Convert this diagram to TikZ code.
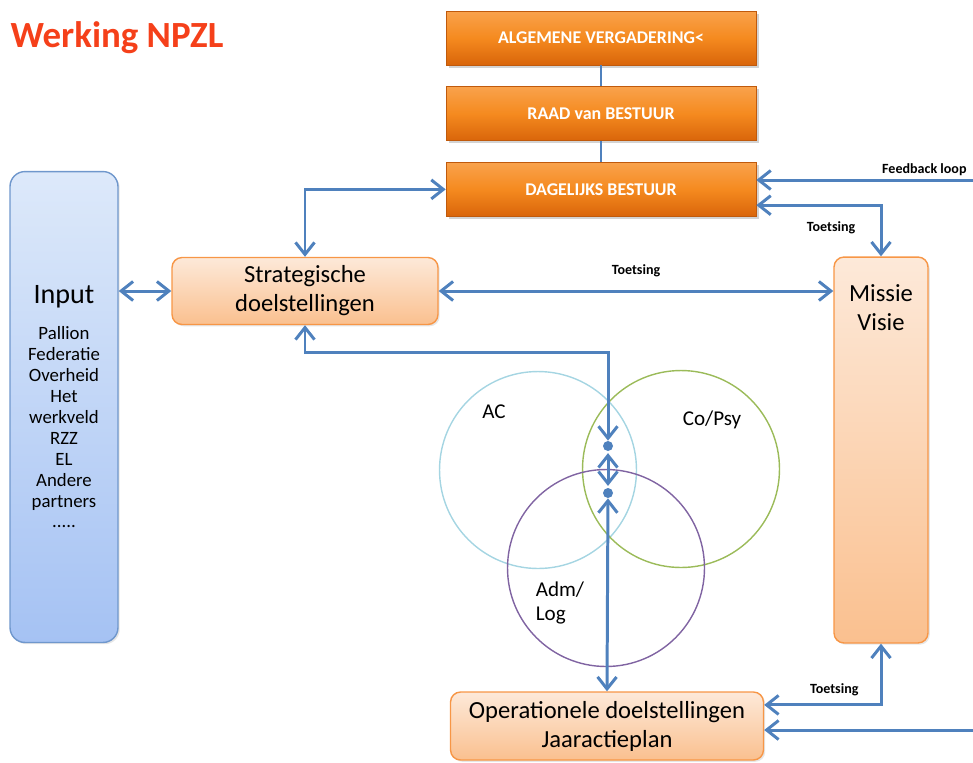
\documentclass[tikz,border=0pt]{standalone}
\usepackage{fontspec}
\setmainfont{Carlito}
\usepackage{tikz}
\usetikzlibrary{arrows.meta,positioning,shadows}
\definecolor{linkblue}{HTML}{4F81BD}
\definecolor{hdtop}{HTML}{F9A24C}
\definecolor{hdmid}{HTML}{F58A1F}
\definecolor{hdbot}{HTML}{D9650A}
\definecolor{hdedge}{HTML}{C05A0C}
\definecolor{peachtop}{HTML}{FDE9D9}
\definecolor{peachbot}{HTML}{FAC08F}
\definecolor{peachedge}{HTML}{F79646}
\definecolor{bluetop}{HTML}{DDE9FA}
\definecolor{bluebot}{HTML}{A5C2F3}
\definecolor{blueedge}{HTML}{6F97CC}
\definecolor{accol}{HTML}{A5D5E2}
\definecolor{cocol}{HTML}{9BBB59}
\definecolor{admcol}{HTML}{8064A2}
\definecolor{titlered}{HTML}{F5401A}

\begin{document}
\begin{tikzpicture}[
    x=0.02cm, y=-0.02cm,
    node distance=0.42cm,
    >={Straight Barb[length=2.4mm,width=3.8mm]},
    header/.style={rectangle, draw=hdedge, top color=hdtop, bottom color=hdbot, middle color=hdmid, minimum width=6.2cm, minimum height=1.08cm, text=white, font=\bfseries\fontsize{10.2}{12}\selectfont, drop shadow={opacity=0.35, shadow xshift=1.5pt, shadow yshift=-1.5pt}},
    softbox/.style={rectangle, rounded corners=0.2cm, draw=peachedge, line width=0.8pt, top color=peachtop, bottom color=peachbot, align=center, font=\fontsize{14}{16.5}\selectfont, drop shadow={opacity=0.2, shadow xshift=1pt, shadow yshift=-1pt}},
    inputbox/.style={rectangle, rounded corners=0.3cm, draw=blueedge, line width=0.8pt, top color=bluetop, bottom color=bluebot, align=center, font=\fontsize{10.7}{11.9}\selectfont, drop shadow={opacity=0.2, shadow xshift=1pt, shadow yshift=-1pt}},
    ring/.style={circle, line width=0.8pt, minimum size=3.94cm},
    dot/.style={circle, fill=linkblue, inner sep=0pt, minimum size=0.2cm},
    arrow/.style={->, draw=linkblue, line width=1.7pt},
    both/.style={<->, draw=linkblue, line width=1.7pt},
    link/.style={draw=linkblue, line width=0.9pt},
    note/.style={font=\bfseries\fontsize{8}{9}\selectfont},
    title/.style={font=\bfseries\fontsize{21}{24}\selectfont, text=titlered}
]
    \clip (0,0) rectangle (973,762);

    \node[title] (werking) at (117,38) {Werking NPZL};

    \node[header] (av) at (601,38) {ALGEMENE VERGADERING<};
    \node[header, below=of av] (rvb) {RAAD van BESTUUR};
    \node[header, below=of rvb] (db) {DAGELIJKS BESTUUR};
    \draw[link] (av) -- (rvb);
    \draw[link] (rvb) -- (db);

    \node[inputbox, minimum width=2.16cm, minimum height=9.42cm] (input) at (64,407) {{\fontsize{16}{19}\selectfont Input}\\[0.3cm]
        Pallion\\Federatie\\Overheid\\Het\\werkveld\\RZZ\\EL\\Andere\\partners\\.....};
    \node[softbox, minimum width=5.32cm, minimum height=1.34cm] (strat) at (305,291) {Strategische\\doelstellingen};
    \node[softbox, minimum width=1.88cm, minimum height=7.72cm, label={[font=\fontsize{14}{16}\selectfont, align=center, anchor=north, yshift=-0.45cm]north:Missie\\Visie}] (missie) at (881,450) {};
    \node[softbox, minimum width=6.26cm, minimum height=1.36cm] (op) at (607,726) {Operationele doelstellingen\\Jaaractieplan};

    \node[ring, draw=accol] (ac) at (538,470) {};
    \node[ring, draw=cocol] (copsy) at (681,469) {};
    \node[ring, draw=admcol] (admlog) at (606,568) {};
    \node[font=\fontsize{12}{14}\selectfont] at (494,412) {AC};
    \node[font=\fontsize{12}{14}\selectfont] at (712,420) {Co/Psy};
    \node[font=\fontsize{12}{14}\selectfont, align=left] at (560,603) {Adm/\\Log};

    \node[dot] (d1) at (608,446) {};
    \node[dot] (d2) at (608,493) {};

    \coordinate (fbtop) at (975,180);
    \coordinate (fbbot) at (975,730);

    \draw[both] (input.east |- strat.west) -- (strat.west);
    \draw[both] (strat.north) |- (db.west);
    \draw[both] (strat.east) -- (strat.east -| missie.west) node[midway, above=4pt, note] {Toetsing};
    \draw[arrow] (fbtop) -- (fbtop -| db.east);
    \node[note, anchor=west] at (876,170) {Feedback loop};
    \draw[both] ([yshift=-9pt]db.east) -| (missie.north) node[pos=0.3, below=5pt, note] {Toetsing};
    \draw[both] ([yshift=12pt]op.east) -| (missie.south) node[pos=0.3, above=1pt, note] {Toetsing};
    \draw[arrow] (fbbot) -- (fbbot -| op.east);

    \draw[both] (strat.south) -- ++(0,27) -| (d1);
    \draw[both, shorten <=1pt, shorten >=1pt] (d1) -- (d2);
    \draw[both] (d2) -- (op.north);
\end{tikzpicture}
\end{document}
